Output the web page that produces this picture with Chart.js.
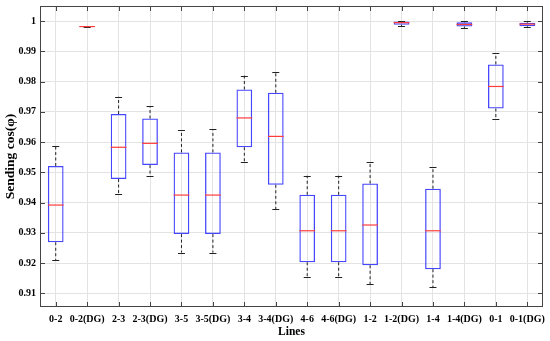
<!DOCTYPE html>
<html>
<head>
<meta charset="utf-8">
<script src="https://cdn.jsdelivr.net/npm/chart.js@4.4.1/dist/chart.umd.min.js"></script>
<style>
html,body{margin:0;padding:0;background:#fff;}
#wrap{width:550px;height:341px;position:relative;}
</style>
</head>
<body>
<div id="wrap"><canvas id="c" width="550" height="341"></canvas></div>
<script>
const categories = ['0-2','0-2(DG)','2-3','2-3(DG)','3-5','3-5(DG)','3-4','3-4(DG)','4-6','4-6(DG)','1-2','1-2(DG)','1-4','1-4(DG)','0-1','0-1(DG)'];
const whiskerLow  = [0.9210,0.9980,0.9428,0.9488,0.9235,0.9235,0.9534,0.9378,0.9154,0.9154,0.9131,0.9984,0.9120,0.9977,0.9676,0.9980];
const q1          = [0.9269,0.9981,0.9478,0.9524,0.9296,0.9296,0.9583,0.9459,0.9203,0.9203,0.9193,0.9988,0.9180,0.9982,0.9711,0.9983];
const median      = [0.9392,0.9982,0.9583,0.9596,0.9425,0.9425,0.9680,0.9619,0.9307,0.9307,0.9326,0.9995,0.9307,0.9989,0.9784,0.9990];
const q3          = [0.9521,0.9983,0.9693,0.9678,0.9566,0.9566,0.9774,0.9763,0.9426,0.9426,0.9463,0.9999,0.9446,0.9996,0.9857,0.9995];
const whiskerHigh = [0.9587,0.9984,0.9750,0.9719,0.9640,0.9642,0.9820,0.9832,0.9489,0.9489,0.9534,1.0000,0.9518,0.9999,0.9893,0.9999];
const yTicks = [0.91,0.92,0.93,0.94,0.95,0.96,0.97,0.98,0.99,1];

const FONT = "'Liberation Serif','Times New Roman',serif";
const boxData = categories.map((c,i)=>[q1[i], q3[i]]);

const boxPlugin = {
  id:'boxExtras',
  afterDatasetsDraw(chart){
    const ctx = chart.ctx, x = chart.scales.x, y = chart.scales.y;
    const meta = chart.getDatasetMeta(0);
    ctx.save();
    categories.forEach((c,i)=>{
      const bar = meta.data[i];
      const cx = x.getPixelForValue(i);
      const half = bar.width/2;
      const capHalf = 3.5;
      ctx.strokeStyle = '#222';
      ctx.lineWidth = 1;
      ctx.setLineDash([3,2.5]);
      ctx.beginPath();
      ctx.moveTo(cx, y.getPixelForValue(q3[i])); ctx.lineTo(cx, y.getPixelForValue(whiskerHigh[i]));
      ctx.moveTo(cx, y.getPixelForValue(q1[i])); ctx.lineTo(cx, y.getPixelForValue(whiskerLow[i]));
      ctx.stroke();
      ctx.setLineDash([]);
      ctx.beginPath();
      const yh = Math.round(y.getPixelForValue(whiskerHigh[i]))+0.5;
      const yl = Math.round(y.getPixelForValue(whiskerLow[i]))+0.5;
      ctx.moveTo(cx-capHalf, yh); ctx.lineTo(cx+capHalf, yh);
      ctx.moveTo(cx-capHalf, yl); ctx.lineTo(cx+capHalf, yl);
      ctx.stroke();
      ctx.strokeStyle = '#ff3c3c';
      ctx.lineWidth = 1.2;
      ctx.beginPath();
      const ym = y.getPixelForValue(median[i]);
      ctx.moveTo(cx-half, ym); ctx.lineTo(cx+half, ym);
      ctx.stroke();
    });
    ctx.restore();
  },
  afterDraw(chart){
    const ctx = chart.ctx, a = chart.chartArea, x = chart.scales.x, y = chart.scales.y;
    ctx.save();
    ctx.strokeStyle = '#444';
    ctx.lineWidth = 1;
    ctx.strokeRect(Math.round(a.left)+0.5, Math.round(a.top)+0.5, Math.round(a.right-a.left)-1, Math.round(a.bottom-a.top)-1);
    const L = 5;
    ctx.beginPath();
    yTicks.forEach(v=>{
      const py = Math.round(y.getPixelForValue(v))+0.5;
      ctx.moveTo(a.left, py); ctx.lineTo(a.left+L, py);
      ctx.moveTo(a.right, py); ctx.lineTo(a.right-L, py);
    });
    categories.forEach((c,i)=>{
      const px = Math.round(x.getPixelForValue(i))+0.5;
      ctx.moveTo(px, a.top); ctx.lineTo(px, a.top+L);
      ctx.moveTo(px, a.bottom); ctx.lineTo(px, a.bottom-L);
    });
    ctx.stroke();
    ctx.restore();
  }
};

new Chart(document.getElementById('c'), {
  type:'bar',
  data:{
    labels: categories,
    datasets:[{
      data: boxData,
      backgroundColor:'rgba(0,0,0,0)',
      borderColor:'#4646ff',
      borderWidth:1.3,
      borderSkipped:false,
      barPercentage:0.5,
      categoryPercentage:1.0
    }]
  },
  options:{
    responsive:false,
    animation:false,
    layout:{padding:{top:6,right:7,left:0,bottom:0}},
    plugins:{legend:{display:false},tooltip:{enabled:false}},
    scales:{
      x:{
        offset:true,
        grid:{offset:false,color:'#e3e3e3',drawTicks:false},
        border:{display:false},
        ticks:{font:{family:FONT,weight:'bold',size:10},color:'#000',padding:6,maxRotation:0,autoSkip:false},
        title:{display:true,text:'Lines',font:{family:FONT,weight:'bold',size:11.5},color:'#000',padding:{top:0,bottom:2}},
        afterFit(s){ s.height = 34; s.paddingLeft = 0; s.paddingRight = 0; }
      },
      y:{
        min:0.9055,
        max:1.005,
        afterBuildTicks(s){ s.ticks = yTicks.map(v=>({value:v})); },
        grid:{color:'#e3e3e3',drawTicks:false},
        border:{display:false},
        ticks:{font:{family:FONT,weight:'bold',size:10},color:'#000',padding:4,
          callback:(v)=> v===1 ? '1' : Number(v).toFixed(2)},
        title:{display:true,text:'Sending cos(φ)',font:{family:FONT,weight:'bold',size:13.5},color:'#000',padding:{top:2,bottom:0}},
        afterFit(s){ s.width = 40; s.paddingTop = 0; s.paddingBottom = 0; }
      }
    }
  },
  plugins:[boxPlugin]
});
</script>
</body>
</html>
